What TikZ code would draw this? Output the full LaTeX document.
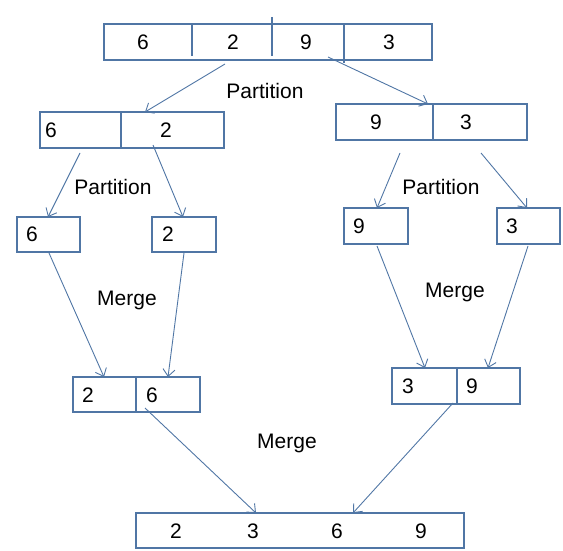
\documentclass[tikz,border=0pt]{standalone}
\usepackage{fontspec}
\setmainfont{Liberation Sans}
\usetikzlibrary{arrows.meta}
\definecolor{boxline}{RGB}{80,118,165}
\tikzset{
  x=1pt, y=-1pt,
  every node/.style={inner sep=0pt, font=\fontsize{21}{25}\selectfont},
  cell/.style={draw=boxline, line width=1.1pt, rectangle, minimum height=#1},
  cell/.default=36pt,
  divider/.style={draw=boxline, line width=1.1pt},
  link/.style={draw=boxline, line width=0.9pt, -{Straight Barb[length=7pt,width=12pt]}},
}
\begin{document}
\begin{tikzpicture}
\useasboundingbox (0,0) rectangle (563,551);
% top row
\node[cell, minimum width=328pt] (T) at (268,42) {};
\draw[divider] (192,24) -- (192,56);
\draw[divider] (272,17) -- (272,56);
\draw[divider] (344,24) -- (344,63);
\node (t6) at (143,42) {6};
\node (t2) at (233,42) {2};
\node (t9) at (306,42) {9};
\node (t3) at (389,42) {3};
% level 1
\node[cell, minimum width=184pt] (L1) at (132,130) {};
\draw[divider] (121,112) -- (121,148);
\node (l6) at (51,130) {6};
\node (l2) at (166,130) {2};
\node[cell, minimum width=191pt] (R1) at (431.5,122) {};
\draw[divider] (433,104) -- (433,140);
\node (r9) at (376,122) {9};
\node (r3) at (466,122) {3};
% level 2
\node[cell=35pt, minimum width=63pt] (B6) at (48.5,234.5) {};
\node (b6) at (32,234.5) {6};
\node[cell=35pt, minimum width=64pt] (B2) at (184,234.5) {};
\node (b2) at (168,234.5) {2};
\node[cell, minimum width=64pt] (B9) at (376,226) {};
\node (b9) at (359,226) {9};
\node[cell, minimum width=63pt] (B3) at (528.5,226) {};
\node (b3) at (512,226) {3};
% level 3
\node[cell=35pt, minimum width=127pt] (M1) at (136.5,394.5) {};
\draw[divider] (136,377) -- (136,412);
\node (m2) at (88,395) {2};
\node (m6) at (152,395) {6};
\node[cell, minimum width=128pt] (M2) at (456,386) {};
\draw[divider] (457,368) -- (457,404);
\node (n3) at (408,386) {3};
\node (n9) at (472,386) {9};
% final
\node[cell=35pt, minimum width=328pt] (F) at (300,530.5) {};
\node (f2) at (176,531) {2};
\node (f3) at (253,531) {3};
\node (f6) at (337,531) {6};
\node (f9) at (421,531) {9};
% labels
\node (p0) at (265,91) {Partition};
\node (p1) at (113,187) {Partition};
\node (p2) at (441,187) {Partition};
\node (g1) at (127,300) {Merge};
\node (g2) at (455,292) {Merge};
\node (g3) at (287,443) {Merge};
% connector ends
\coordinate (a1s) at (225,64);  \coordinate (a1e) at (145,112);
\coordinate (a2s) at (328,57);  \coordinate (a2e) at (428,104);
\coordinate (a3s) at (80,153);  \coordinate (a3e) at (48,217);
\coordinate (a4s) at (153,145); \coordinate (a4e) at (183,217);
\coordinate (a5s) at (400,153); \coordinate (a5e) at (377,208);
\coordinate (a6s) at (481,153); \coordinate (a6e) at (527,208);
\coordinate (a7s) at (49,253);  \coordinate (a7e) at (104,377);
\coordinate (a8s) at (184,253); \coordinate (a8e) at (168,377);
\coordinate (a9s) at (377,246); \coordinate (a9e) at (425,368);
\coordinate (a10s) at (528,246); \coordinate (a10e) at (488,368);
\coordinate (a11s) at (145,408); \coordinate (a11e) at (256,513);
\coordinate (a12s) at (453,403); \coordinate (a12e) at (353,513);
\draw[link] (a1s) -- (a1e);
\draw[link] (a2s) -- (a2e);
\draw[link] (a3s) -- (a3e);
\draw[link] (a4s) -- (a4e);
\draw[link] (a5s) -- (a5e);
\draw[link] (a6s) -- (a6e);
\draw[link] (a7s) -- (a7e);
\draw[link] (a8s) -- (a8e);
\draw[link] (a9s) -- (a9e);
\draw[link] (a10s) -- (a10e);
\draw[link] (a11s) -- (a11e);
\draw[link] (a12s) -- (a12e);
\end{tikzpicture}
\end{document}
